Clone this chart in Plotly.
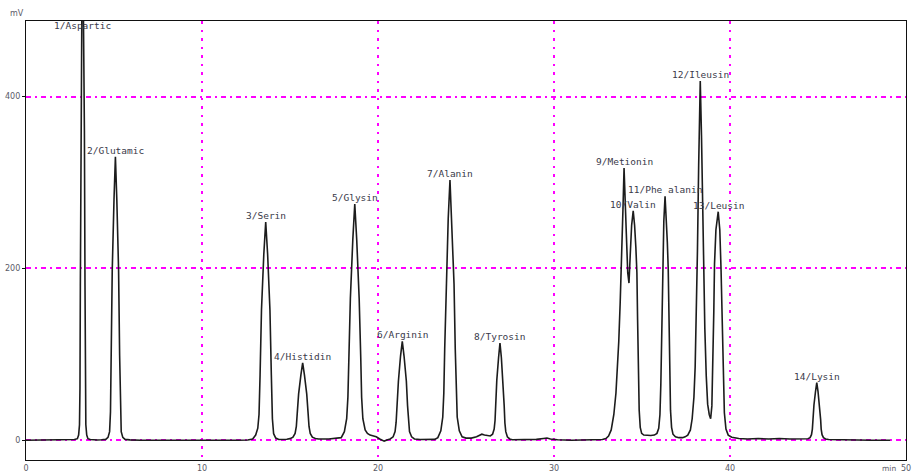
import plotly.graph_objects as go

# ---- chromatogram trace (retention time in min, detector signal in mV) ----
trace_time = [
    0.0, 2.5, 2.6, 2.75, 2.92, 2.99, 3.04, 3.066, 3.088, 3.121, 3.176, 3.22, 3.264, 3.319, 3.352, 3.374, 3.40, 3.45, 3.52, 3.65, 3.85, 4.05, 4.3,
    4.53, 4.66, 4.75, 4.80, 4.84, 4.90, 5.00, 5.08, 5.16, 5.26, 5.32, 5.36, 5.41, 5.50, 5.63, 5.9, 6.5,
    12.0, 12.6, 12.88, 13.05, 13.17, 13.24, 13.30, 13.38, 13.51, 13.62, 13.73, 13.86, 13.94, 14.00, 14.07, 14.19, 14.36, 14.6,
    14.82, 15.00, 15.17, 15.29, 15.36, 15.41, 15.49, 15.62, 15.72, 15.82, 15.95, 16.03, 16.08, 16.15, 16.27, 16.44, 16.62, 17.2, 17.7,
    17.91, 18.09, 18.22, 18.29, 18.34, 18.43, 18.57, 18.68, 18.79, 18.93, 19.02, 19.07, 19.14, 19.27, 19.4, 19.55, 19.75, 19.9, 20.1, 20.35, 20.55,
    20.69, 20.86, 20.97, 21.03, 21.08, 21.16, 21.28, 21.38, 21.48, 21.61, 21.68, 21.73, 21.79, 21.91, 22.07, 22.4, 22.9,
    23.22, 23.40, 23.57, 23.68, 23.74, 23.79, 23.87, 23.99, 24.09, 24.19, 24.32, 24.39, 24.44, 24.50, 24.62, 24.78, 25.0, 25.3, 25.6, 25.8, 25.9, 26.05, 26.25,
    26.38, 26.51, 26.60, 26.65, 26.69, 26.75, 26.85, 26.93, 27.01, 27.11, 27.17, 27.21, 27.26, 27.35, 27.48, 27.63, 28.0, 29.0, 29.4, 29.6, 29.8, 30.2, 31.0, 32.5,
    32.75, 32.95, 33.1, 33.25, 33.4, 33.52, 33.6, 33.68, 33.76, 33.84, 33.92, 33.98, 34.04, 34.11, 34.19, 34.26, 34.33, 34.41, 34.5,
    34.58, 34.65, 34.71, 34.75, 34.79, 34.84, 34.9, 34.98, 35.1, 35.3, 35.5, 35.7,
    35.85, 35.95, 36.02, 36.07, 36.12, 36.17, 36.24, 36.31, 36.38, 36.44, 36.49, 36.53, 36.57, 36.62, 36.68, 36.76, 36.9, 37.1, 37.3, 37.45,
    37.6, 37.75, 37.85, 37.95, 38.02, 38.09, 38.15, 38.22, 38.31, 38.38, 38.44, 38.5, 38.57, 38.65, 38.73, 38.82, 38.9,
    38.97, 39.03, 39.08, 39.12, 39.2, 39.33, 39.42, 39.49, 39.55, 39.61, 39.68, 39.77, 39.9, 40.1, 40.5, 41.0, 41.6, 42.2, 42.8, 43.4, 44.0,
    44.3, 44.43, 44.55, 44.63, 44.68, 44.71, 44.77, 44.86, 44.93, 45.00, 45.09, 45.15, 45.18, 45.23, 45.31, 45.43, 45.6, 46.2, 47.0, 48.0, 49.1,
]
trace_mv = [
    0, 0, 0.3, 0.8, 1.8, 6, 18, 60, 180, 360, 510, 600, 510, 360, 180, 60, 18, 6, 1.8, 0.8, 0.4, 0.3, 0.5,
    1, 3.3, 10, 33, 99, 198, 280, 330, 280, 198, 99, 33, 10, 3.3, 1, 0.4, 0,
    0, 0.3, 1.5, 6, 14, 30, 76, 152, 216, 254, 216, 152, 76, 25, 7.6, 2.5, 0.8, 0.8,
    1.2, 1.9, 3.5, 8, 16, 31, 54, 76, 90, 76, 54, 31, 16, 8, 3.5, 2, 1.5, 1.5, 2,
    3, 10, 25, 50, 96, 165, 234, 275, 234, 165, 96, 50, 25, 12, 8, 6, 5, 4, 1.5, -1, 0.5,
    1.5, 4, 10, 21, 40, 69, 98, 115, 98, 69, 40, 21, 10, 4, 1.5, 0.8, 1,
    1, 3, 11, 27, 55, 106, 182, 258, 303, 258, 182, 106, 55, 27, 11, 4, 2.5, 2.5, 4, 6, 7, 6, 5,
    5, 7, 13, 23, 42, 70, 96, 113, 96, 68, 40, 20, 10, 4, 1.5, 0.6, 0.5, 1, 2, 2.5, 1.5, 0.5, 0, 0,
    0.8, 2, 5, 12, 30, 55, 80, 115, 160, 205, 270, 317, 290, 240, 195, 183, 215, 250, 267,
    250, 225, 195, 140, 80, 35, 15, 8, 6, 5.5, 5.5, 6,
    8, 14, 30, 65, 130, 200, 255, 284, 260, 230, 200, 140, 75, 35, 15, 7, 4, 3, 3, 4,
    6, 12, 25, 50, 85, 140, 220, 320, 418, 355, 280, 200, 130, 75, 42, 30, 25,
    40, 90, 150, 205, 245, 266, 245, 200, 135, 70, 32, 13, 6, 3.5, 2, 1.5, 2, 1.5, 2, 1.5, 1.5,
    1.5, 1.8, 3, 6.5, 13, 24, 41, 57, 67, 57, 41, 24, 13, 6.5, 3, 1.5, 0.8, 0.5, 0.3, 0, 0,
]

# ---- peak labels ----
peak_labels = ["1/Aspartic", "2/Glutamic", "3/Serin", "4/Histidin", "5/Glysin", "6/Arginin", "7/Alanin",
               "8/Tyrosin", "9/Metionin", "10/Valin", "11/Phe alanin", "12/Ileusin", "13/Leusin", "14/Lysin"]
peak_time = [3.2, 5.08, 13.62, 15.72, 18.68, 21.38, 24.09, 26.93, 33.98, 34.5, 36.31, 38.31, 39.33, 44.93]
peak_mv = [600, 330, 254, 90, 275, 115, 303, 113, 317, 267, 284, 418, 266, 67]

# ---- axes ----
x_ticks = [0, 10, 20, 30, 40, 50]
y_ticks = [0, 200, 400]
x_range = [0, 50]
y_range = [-23, 488]

MAGENTA = "#ff00ff"
LABEL_COLOR = "#3a3a4a"
TICK_COLOR = "#5a5a66"

fig = go.Figure()
fig.add_trace(go.Scatter(
    x=trace_time, y=trace_mv, mode="lines",
    line=dict(color="#1c1c1c", width=1.6),
    hoverinfo="skip", showlegend=False,
))

annotations = []
for lab, t, h in zip(peak_labels, peak_time, peak_mv):
    if h > y_range[1]:
        annotations.append(dict(x=t, xref="x", y=1, yref="paper", yanchor="top", yshift=3,
                                text=lab, showarrow=False,
                                font=dict(family="DejaVu Sans Mono", size=9.5, color=LABEL_COLOR)))
    else:
        annotations.append(dict(x=t, xref="x", y=h, yref="y", yanchor="bottom", yshift=-1,
                                text=lab, showarrow=False,
                                font=dict(family="DejaVu Sans Mono", size=9.5, color=LABEL_COLOR)))

annotations.append(dict(x=0, xref="paper", xanchor="right", xshift=0, y=1, yref="paper", yanchor="bottom",
                        yshift=1, text="mV", showarrow=False,
                        font=dict(family="DejaVu Sans", size=8, color=TICK_COLOR)))
annotations.append(dict(x=1, xref="paper", xanchor="right", xshift=-9, y=0, yref="paper", yanchor="top",
                        yshift=-3, text="min", showarrow=False, borderpad=0,
                        font=dict(family="DejaVu Sans", size=7.5, color=TICK_COLOR)))

fig.update_layout(
    width=914, height=475,
    margin=dict(l=26, r=8, t=21, b=15, autoexpand=False),
    paper_bgcolor="white", plot_bgcolor="white",
    showlegend=False, hovermode=False,
    annotations=annotations,
    xaxis=dict(
        range=x_range, tickvals=x_ticks, ticktext=[str(v) for v in x_ticks], automargin=False,
        showgrid=True, gridcolor=MAGENTA, gridwidth=1.6, griddash="2.5px,6px",
        zeroline=False, showline=True, linecolor="#111111", linewidth=1.2, mirror=True,
        ticks="", tickfont=dict(family="DejaVu Sans", size=8, color=TICK_COLOR),
    ),
    yaxis=dict(
        range=y_range, tickvals=y_ticks, ticktext=[str(v) for v in y_ticks], automargin=False,
        showgrid=True, gridcolor=MAGENTA, gridwidth=1.6, griddash="5px,4px,2px,4px",
        zeroline=False, showline=True, linecolor="#111111", linewidth=1.2, mirror=True,
        ticks="outside", ticklen=3, tickcolor="#111111",
        tickfont=dict(family="DejaVu Sans", size=8, color=TICK_COLOR),
    ),
)

fig.write_html("out.html")
